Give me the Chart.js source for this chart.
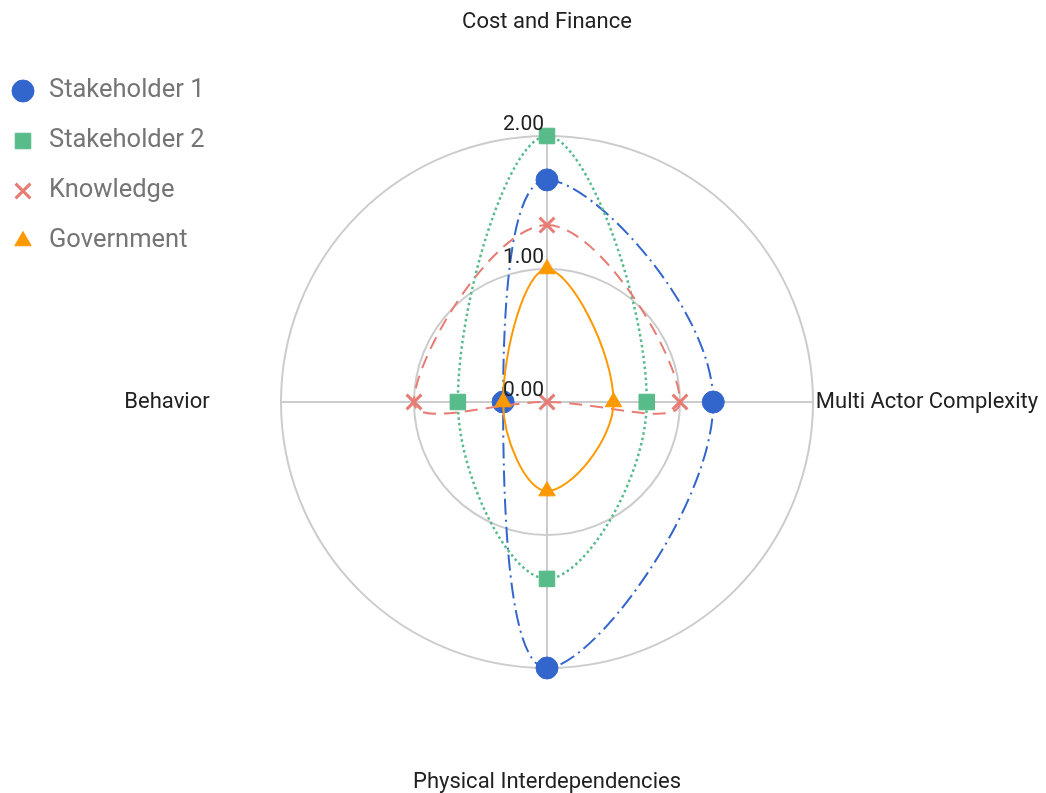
<!DOCTYPE html>
<html>
<head>
<meta charset="utf-8">
<script src="https://cdn.jsdelivr.net/npm/chart.js@4/dist/chart.umd.min.js"></script>
<style>
  html, body { margin: 0; padding: 0; background: #ffffff; }
  #wrap { width: 1046px; height: 793px; }
</style>
</head>
<body>
<div id="wrap"><canvas id="chart" width="1046" height="793"></canvas></div>
<script>
// Axes of the radar, clockwise from the top
const axisLabels = ['Cost and Finance', 'Multi Actor Complexity', 'Physical Interdependencies', 'Behavior'];

// Scores per group on each axis
const seriesNames = ['Stakeholder 1', 'Stakeholder 2', 'Knowledge', 'Government'];
const stakeholder1 = [1.67, 1.25, 2.00, 0.33];
const stakeholder2 = [2.00, 0.75, 1.33, 0.67];
const knowledge    = [1.33, 1.00, 0.00, 1.00];
const government   = [1.00, 0.50, 0.67, 0.33];

// Ring values shown on the vertical axis
const tickValues = [0, 1, 2];

const seriesColors = ['#3366CC', '#57BB8A', '#E67C73', '#FF9900'];
const seriesData = [stakeholder1, stakeholder2, knowledge, government];
const seriesStyle = [
  { pointStyle: 'circle',   radius: 11,   dash: [16, 5, 2, 5], width: 2,   pointBorder: 1 },
  { pointStyle: 'rect',     radius: 11,   dash: [2.5, 3],      width: 2.5, pointBorder: 1 },
  { pointStyle: 'crossRot', radius: 10.5, dash: [13, 8],       width: 2,   pointBorder: 3 },
  { pointStyle: 'triangle', radius: 9.5,  dash: [],            width: 2,   pointBorder: 1 }
];

const datasets = seriesNames.map((name, i) => ({
  label: name,
  data: seriesData[i],
  borderColor: seriesColors[i],
  backgroundColor: seriesColors[i],
  pointBackgroundColor: seriesColors[i],
  pointBorderColor: seriesColors[i],
  borderWidth: seriesStyle[i].width,
  borderDash: seriesStyle[i].dash,
  pointStyle: seriesStyle[i].pointStyle,
  pointRadius: seriesStyle[i].radius,
  pointHoverRadius: seriesStyle[i].radius,
  pointBorderWidth: seriesStyle[i].pointBorder,
  fill: false,
  tension: 0.4,
  clip: false,
  order: seriesNames.length - i
}));

function drawSymbol(ctx, style, radius, x, y, borderWidth) {
  if (Chart.helpers && Chart.helpers.drawPoint) {
    Chart.helpers.drawPoint(ctx, { pointStyle: style, radius: radius, rotation: 0, borderWidth: borderWidth }, x, y);
  }
}

// Axis names, ring values and the series key
const radarDecor = {
  id: 'radarDecor',
  afterDraw(chart) {
    const ctx = chart.ctx;
    const scale = chart.scales.r;
    ctx.save();

    ctx.font = '22px Roboto';
    ctx.fillStyle = '#212121';
    ctx.textAlign = 'center';
    ctx.textBaseline = 'middle';
    axisLabels.forEach((label, i) => {
      const p = scale.getPointPosition(i, scale.drawingArea + 114);
      ctx.fillText(label, p.x, p.y);
    });

    ctx.font = '21px Roboto';
    ctx.textAlign = 'right';
    ctx.textBaseline = 'alphabetic';
    tickValues.forEach(v => {
      const d = scale.getDistanceFromCenterForValue(v);
      ctx.fillText(v.toFixed(2), scale.xCenter - 3, scale.yCenter - d - 6);
    });

    seriesNames.forEach((name, i) => {
      const y = 91 + i * 50;
      ctx.fillStyle = seriesColors[i];
      ctx.strokeStyle = seriesColors[i];
      ctx.lineWidth = seriesStyle[i].pointBorder;
      ctx.setLineDash([]);
      drawSymbol(ctx, seriesStyle[i].pointStyle, seriesStyle[i].radius, 23, y, seriesStyle[i].pointBorder);
      ctx.font = '25.5px Roboto';
      ctx.fillStyle = '#757575';
      ctx.textAlign = 'left';
      ctx.textBaseline = 'middle';
      ctx.fillText(name, 49, y);
    });

    ctx.restore();
  }
};

new Chart(document.getElementById('chart'), {
  type: 'radar',
  data: { labels: axisLabels, datasets: datasets },
  options: {
    responsive: false,
    devicePixelRatio: 1,
    animation: false,
    layout: { padding: { left: 281, right: 233, top: 136, bottom: 125 } },
    plugins: {
      legend: { display: false },
      tooltip: { enabled: false }
    },
    scales: {
      r: {
        min: 0,
        max: 2,
        ticks: { display: false, stepSize: 1 },
        pointLabels: { display: false },
        grid: { circular: true, color: '#cccccc', lineWidth: 2 },
        angleLines: { display: true, color: '#cccccc', lineWidth: 2 }
      }
    }
  },
  plugins: [radarDecor]
});
</script>
</body>
</html>
